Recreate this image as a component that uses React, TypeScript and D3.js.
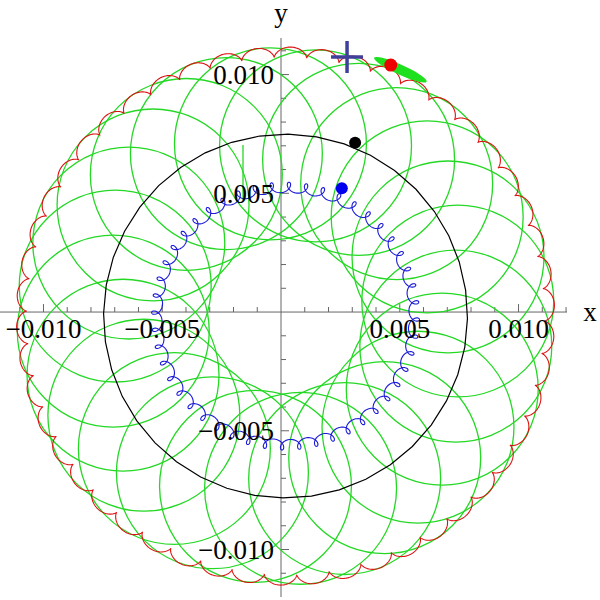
import React from 'react';
import * as d3 from 'd3';

const width = 600;
const height = 600;

// visible window (data units) and where the axes end in the frame
const xDomain = [-0.01183, 0.01204];
const yDomain = [-0.012, 0.01154];

// every orbit shares this center
const orbitCenter = [0.00019, -0.00017];

// green: ring of equal circles
const greenCount = 24;
const greenRingRadius = 0.00728;
const greenCircleRadius = 0.00404;
const greenPhaseDeg = 5;

// red: epicycloid with cusps pointing inward
const redCusps = 50;
const redOuterRadius = 0.01133;
const redPhaseDeg = 67.3;

// black: coarse circle
const blackRadius = 0.00766;
const blackVertices = 40;

// blue: looped orbit
const blueLoops = 48;
const blueRadius = 0.00542;
const blueEpicycle = 0.00022;
const bluePhaseDeg = 66;

// markers: [x, y]
const blackDot = [0.00312, 0.00713];
const blueDot = [0.00256, 0.00521];
const redDot = [0.00462, 0.0104];
const crossMark = [0.00278, 0.01074];
const greenBlobEnds = [[0.00392, 0.01071], [0.00613, 0.0097]];
const greenStray = [[-0.0016, 0.00703], [-0.0016, 0.0047]];

// ticks
const xTickValues = d3.range(-11, 13).map(i => i / 1000).filter(v => v !== 0);
const yTickValues = d3.range(-11, 12).map(i => i / 1000).filter(v => v !== 0);
const xTickLabels = [-0.01, -0.005, 0.005, 0.01];
const yTickLabels = [-0.01, -0.005, 0.005, 0.01];

const fmt = d3.format('.3f');
const rad = (deg: number) => (deg * Math.PI) / 180;

const App = () => {
  const x = d3.scaleLinear().domain(xDomain).range([0, 567]);
  const y = d3.scaleLinear().domain(yDomain).range([597, 38]);
  const x0 = x(0);
  const y0 = y(0);
  const [cx, cy] = orbitCenter;
  const line = d3.line<number[]>().x(d => x(d[0])).y(d => y(d[1]));

  // green circles
  const greenR = x(greenCircleRadius) - x(0);
  const greenCircles = d3.range(greenCount).map(k => {
    const a = rad(greenPhaseDeg) + (2 * Math.PI * k) / greenCount;
    return [cx + greenRingRadius * Math.cos(a), cy + greenRingRadius * Math.sin(a)];
  });

  // red epicycloid
  const rr = redOuterRadius / (redCusps + 2);
  const rb = redCusps * rr;
  const redPhase = rad(redPhaseDeg) - Math.PI / redCusps;
  const redPts = d3.range(0, redCusps * 60 + 1).map(i => {
    const t = (2 * Math.PI * i) / (redCusps * 60);
    const k = (rb + rr) / rr;
    const px = (rb + rr) * Math.cos(t) - rr * Math.cos(k * t);
    const py = (rb + rr) * Math.sin(t) - rr * Math.sin(k * t);
    const c = Math.cos(redPhase), s = Math.sin(redPhase);
    return [cx + px * c - py * s, cy + px * s + py * c];
  });

  // black polygon circle
  const blackPts = d3.range(blackVertices).map(i => {
    const a = (2 * Math.PI * i) / blackVertices + 0.3;
    return [cx + blackRadius * Math.cos(a), cy + blackRadius * Math.sin(a)];
  });

  // blue loops
  const bluePhase = rad(bluePhaseDeg);
  const bluePts = d3.range(0, blueLoops * 40 + 1).map(i => {
    const t = (2 * Math.PI * i) / (blueLoops * 40);
    const re = blueRadius + blueEpicycle * Math.cos(-blueLoops * t);
    const im = blueEpicycle * Math.sin(-blueLoops * t);
    const a = t + bluePhase;
    return [cx + re * Math.cos(a) - im * Math.sin(a), cy + re * Math.sin(a) + im * Math.cos(a)];
  });

  // green blob as a rotated ellipse
  const bx1 = x(greenBlobEnds[0][0]), by1 = y(greenBlobEnds[0][1]);
  const bx2 = x(greenBlobEnds[1][0]), by2 = y(greenBlobEnds[1][1]);
  const blobLen = Math.hypot(bx2 - bx1, by2 - by1);
  const blobAngle = (Math.atan2(by2 - by1, bx2 - bx1) * 180) / Math.PI;

  const crossX = x(crossMark[0]);
  const crossY = y(crossMark[1]);

  const font = "'Liberation Serif', 'Times New Roman', serif";
  const green = '#24d824';

  return (
    <svg width={width} height={height} style={{ position: 'absolute', left: 0, top: 0, background: '#fff' }}>
      {/* axes */}
      <g stroke="#666" strokeWidth={1}>
        <line x1={0} x2={567} y1={y0} y2={y0} />
        <line x1={x0} x2={x0} y1={38} y2={597} />
        {xTickValues.map(v => (
          <line key={'xt' + v} x1={x(v)} x2={x(v)} y1={y0} y2={y0 - (xTickLabels.some(l => Math.abs(l - v) < 1e-9) ? 8 : 5)} />
        ))}
        {yTickValues.map(v => (
          <line key={'yt' + v} x1={x0} x2={x0 + (yTickLabels.some(l => Math.abs(l - v) < 1e-9) ? 8 : 5)} y1={y(v)} y2={y(v)} />
        ))}
      </g>

      {/* green circles */}
      <g fill="none" stroke={green} strokeWidth={1.3}>
        {greenCircles.map((c, i) => (
          <circle key={i} cx={x(c[0])} cy={y(c[1])} r={greenR} />
        ))}
        <path d={line(greenStray) || ''} />
      </g>

      <path d={line(redPts) || ''} fill="none" stroke="#dd1111" strokeWidth={1.1} />
      <path d={(line.curve(d3.curveLinearClosed)(blackPts)) || ''} fill="none" stroke="#000" strokeWidth={1.2} />
      <path d={d3.line<number[]>().x(d => x(d[0])).y(d => y(d[1]))(bluePts) || ''} fill="none" stroke="#1a1ad8" strokeWidth={1.1} />

      {/* markers */}
      <ellipse
        cx={(bx1 + bx2) / 2}
        cy={(by1 + by2) / 2}
        rx={blobLen / 2}
        ry={5}
        fill="#1ee01e"
        transform={`rotate(${blobAngle},${(bx1 + bx2) / 2},${(by1 + by2) / 2})`}
      />
      <circle cx={x(redDot[0])} cy={y(redDot[1])} r={6.5} fill="#ee0000" />
      <circle cx={x(blackDot[0])} cy={y(blackDot[1])} r={6} fill="#000" />
      <circle cx={x(blueDot[0])} cy={y(blueDot[1])} r={6} fill="#0000ee" />
      <g stroke="#40409a" strokeWidth={3.5}>
        <line x1={crossX} x2={crossX} y1={crossY - 16} y2={crossY + 16} />
        <line x1={crossX - 16} x2={crossX + 16} y1={crossY} y2={crossY} />
      </g>

      {/* tick labels */}
      <g fontFamily={font} fontSize={27} fill="#000">
        {xTickLabels.map(v => (
          <text key={'xl' + v} x={x(v)} y={y0 + 26} textAnchor="middle">{fmt(v)}</text>
        ))}
        {yTickLabels.map(v => (
          <text key={'yl' + v} x={x0 - 7} y={y(v)} dy="0.35em" textAnchor="end">{fmt(v)}</text>
        ))}
        <text x={590} y={y0} dy="0.35em" textAnchor="middle">x</text>
        <text x={x0} y={22} textAnchor="middle">y</text>
      </g>
    </svg>
  );
};

export default App;
